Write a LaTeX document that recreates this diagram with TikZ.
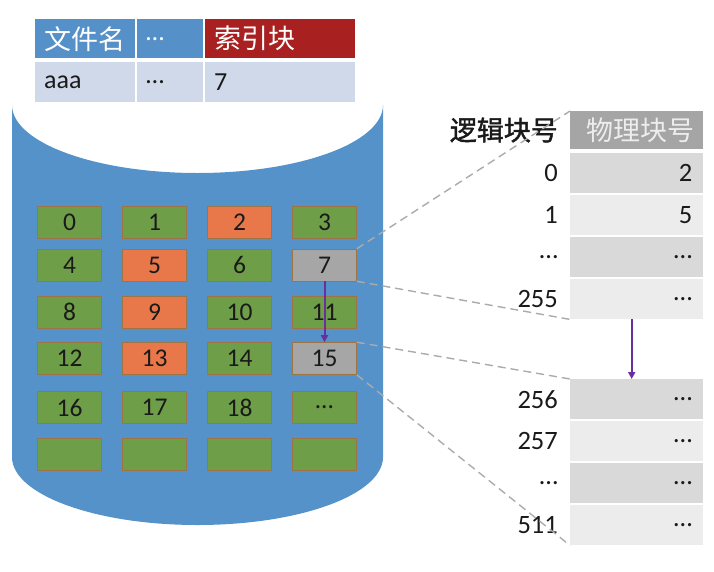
\documentclass[tikz,border=0pt]{standalone}
\usepackage{fontspec}
\setmainfont{Carlito}
\newfontfamily\cjk{Noto Sans CJK SC}
\newfontfamily\cjkfb[FakeBold=1.6]{Noto Sans CJK SC}
\usetikzlibrary{arrows.meta}
\definecolor{cylblue}{HTML}{5592C9}
\definecolor{hblue}{HTML}{5590C8}
\definecolor{hred}{HTML}{A8201F}
\definecolor{rowblue}{HTML}{CFD9EA}
\definecolor{bgreen}{HTML}{6E9E47}
\definecolor{borange}{HTML}{E8784A}
\definecolor{bgray}{HTML}{A6A6A6}
\definecolor{bedge}{HTML}{9C7446}
\definecolor{hdrgray}{HTML}{A5A5A5}
\definecolor{rowdark}{HTML}{D9D9D9}
\definecolor{rowlight}{HTML}{ECECEC}
\definecolor{arrpurple}{HTML}{6A2F9E}
\definecolor{dashgray}{HTML}{ABABAB}
\definecolor{txt}{HTML}{1A1A1A}
\begin{document}
\begin{tikzpicture}[x=1pt,y=-1pt,
  blk/.style={draw=bedge, line width=0.6pt, minimum width=64pt, minimum height=32pt,
    inner sep=0pt, font=\fontsize{25.5}{28}\selectfont, text=txt},
  gblk/.style={blk, fill=bgreen},
  oblk/.style={blk, fill=borange},
  yblk/.style={blk, fill=bgray},
  tcell/.style={anchor=north west, inner xsep=9pt, inner ysep=0pt, align=left,
    font=\fontsize{26}{30}\selectfont},
  rrow/.style={anchor=north west, minimum width=133pt, minimum height=40pt, inner sep=0pt},
  rlab/.style={anchor=east, inner sep=0pt, font=\fontsize{26.5}{30}\selectfont, text=txt},
  dline/.style={draw=dashgray, line width=1.4pt, dash pattern=on 8pt off 5pt},
  parrow/.style={draw=arrpurple, line width=2pt, -{Triangle[length=7pt,width=7pt]}}
]
\useasboundingbox (0,0) rectangle (714,571);
% cylinder
\fill[cylblue] (12,105) -- (12,457) arc[start angle=180, end angle=0, x radius=185.5, y radius=68]
  -- (383,105) arc[start angle=0, end angle=180, x radius=185.5, y radius=68] -- cycle;
% top table
\node[tcell, fill=hblue, text=white, text width=82pt, minimum height=39pt, font=\cjk\fontsize{27}{30}\selectfont] (h1) at (35,19) {文件名};
\node[tcell, fill=hblue, text=white, text width=48pt, minimum height=39pt] (h2) at (137,19) {…};
\node[tcell, fill=hred, text=white, text width=132pt, minimum height=39pt, font=\cjk\fontsize{27}{30}\selectfont] (h3) at (205,19) {索引块};
\node[tcell, fill=rowblue, text=txt, text width=82pt, minimum height=40pt] (c1) at (35,62) {aaa};
\node[tcell, fill=rowblue, text=txt, text width=48pt, minimum height=40pt] (c2) at (137,62) {…};
\node[tcell, fill=rowblue, text=txt, text width=132pt, minimum height=40pt] (c3) at (205,62) {7};
% blocks
\node[gblk] (b0) at (69.5,222) {0};
\node[gblk] (b1) at (154.5,222) {1};
\node[oblk] (b2) at (239.5,222) {2};
\node[gblk] (b3) at (324.5,222) {3};
\node[gblk] (b4) at (69.5,265) {4};
\node[oblk] (b5) at (154.5,265) {5};
\node[gblk] (b6) at (239.5,265) {6};
\node[yblk] (b7) at (324.5,265) {7};
\node[gblk] (b8) at (69.5,312) {8};
\node[oblk] (b9) at (154.5,312) {9};
\node[gblk] (b10) at (239.5,312) {10};
\node[gblk] (b11) at (324.5,312) {11};
\node[gblk] (b12) at (69.5,358.5) {12};
\node[oblk] (b13) at (154.5,358.5) {13};
\node[gblk] (b14) at (239.5,358.5) {14};
\node[yblk] (b15) at (324.5,358.5) {15};
\node[gblk] (b16) at (69.5,407.5) {16};
\node[gblk] (b17) at (154.5,407.5) {17};
\node[gblk] (b18) at (239.5,407.5) {18};
\node[gblk] (b19) at (324.5,407.5) {…};
\node[gblk] (b20) at (69.5,454.5) {};
\node[gblk] (b21) at (154.5,454.5) {};
\node[gblk] (b22) at (239.5,454.5) {};
\node[gblk] (b23) at (324.5,454.5) {};
% right table
\node[rrow, fill=hdrgray, minimum height=38pt] (hdr) at (570,111) {};
\node[inner sep=0pt, text=white!93!black, font=\cjk\fontsize{27}{30}\selectfont] (hdrt) at (640,130) {物理块号};
\node[anchor=east, inner sep=0pt, text=txt, font=\cjkfb\fontsize{27}{30}\selectfont] (logt) at (558,130) {逻辑块号};
\node[rrow, fill=rowdark] (r0) at (570,153) {};
\node[rrow, fill=rowlight] (r1) at (570,195) {};
\node[rrow, fill=rowdark] (r2) at (570,237) {};
\node[rrow, fill=rowlight] (r3) at (570,279) {};
\node[rrow, fill=rowdark] (r4) at (570,379) {};
\node[rrow, fill=rowlight] (r5) at (570,421) {};
\node[rrow, fill=rowdark] (r6) at (570,463) {};
\node[rrow, fill=rowlight] (r7) at (570,505) {};
\node[rlab] (l0) at ([xshift=-12pt]r0.west) {0};
\node[rlab] (l1) at ([xshift=-12pt]r1.west) {1};
\node[rlab] (l2) at ([xshift=-12pt]r2.west) {…};
\node[rlab] (l3) at ([xshift=-12pt]r3.west) {255};
\node[rlab] (l4) at ([xshift=-12pt]r4.west) {256};
\node[rlab] (l5) at ([xshift=-12pt]r5.west) {257};
\node[rlab] (l6) at ([xshift=-12pt]r6.west) {…};
\node[rlab] (l7) at ([xshift=-12pt]r7.west) {511};
\node[rlab] (v0) at ([xshift=-11pt]r0.east) {2};
\node[rlab] (v1) at ([xshift=-11pt]r1.east) {5};
\node[rlab] (v2) at ([xshift=-11pt]r2.east) {…};
\node[rlab] (v3) at ([xshift=-11pt]r3.east) {…};
\node[rlab] (v4) at ([xshift=-11pt]r4.east) {…};
\node[rlab] (v5) at ([xshift=-11pt]r5.east) {…};
\node[rlab] (v6) at ([xshift=-11pt]r6.east) {…};
\node[rlab] (v7) at ([xshift=-11pt]r7.east) {…};
% dashed connectors
\draw[dline] (b7.north east) -- (hdr.north west);
\draw[dline] (b7.south east) -- (r3.south west);
\draw[dline] (b15.north east) -- (r4.north west);
\draw[dline] (b15.south east) -- (r7.south west);
% arrows
\draw[parrow] (b7.south) -- (b15.north);
\draw[parrow] ([xshift=-5pt]r3.south) -- ([xshift=-5pt]r4.north);
\end{tikzpicture}
\end{document}
